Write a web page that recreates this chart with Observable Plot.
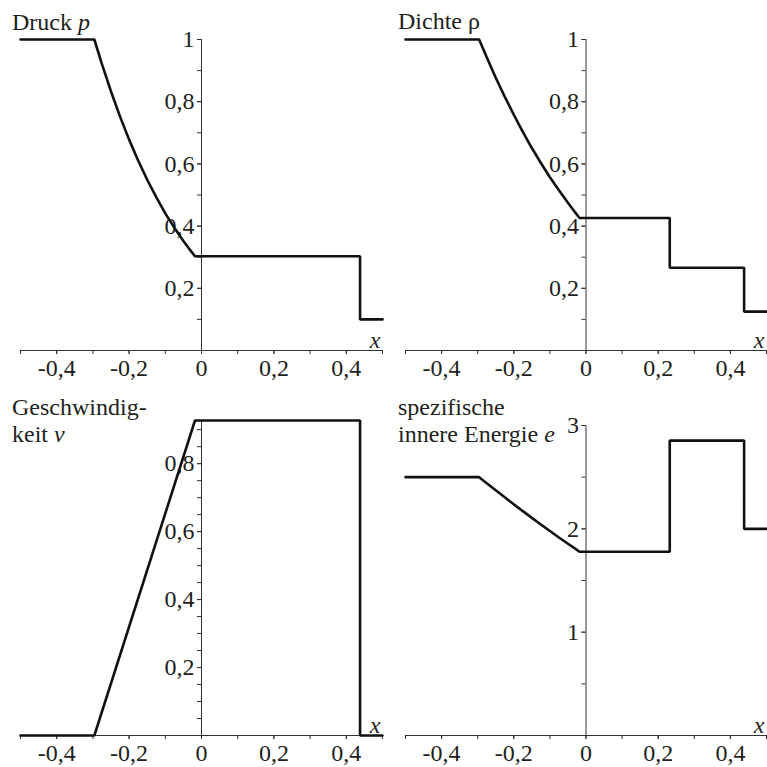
<!DOCTYPE html>
<html><head><meta charset="utf-8">
<script src="https://cdn.jsdelivr.net/npm/d3@7"></script>
<script src="https://cdn.jsdelivr.net/npm/@observablehq/plot@0.6"></script>
<style>
body{margin:0;background:#fff;}
#wrap{position:relative;width:767px;height:767px;color:#231f20;background:#fff;}
.panel{position:absolute;}
.title{position:absolute;font-size:24px;line-height:26.7px;white-space:nowrap;}
</style></head><body>
<div id="wrap"></div>
<script>
// x ticks
const xMinorTicks = [-0.5, -0.4, -0.3, -0.2, -0.1, 0, 0.1, 0.2, 0.3, 0.4, 0.5];
const xLabelTicks = [-0.4, -0.2, 0, 0.2, 0.4];

// Druck p
const xPressure = [-0.5, -0.296, -0.275, -0.25, -0.225, -0.2, -0.175, -0.15, -0.125, -0.1, -0.075, -0.05, -0.03, -0.018, 0.438, 0.438, 0.5];
const pressure  = [1, 1, 0.921, 0.833, 0.752, 0.678, 0.611, 0.549, 0.493, 0.441, 0.395, 0.352, 0.321, 0.303, 0.303, 0.1, 0.1];
const pTicks = [0.2, 0.4, 0.6, 0.8, 1];
const pMinor = [0.1, 0.2, 0.3, 0.4, 0.5, 0.6, 0.7, 0.8, 0.9, 1];

// Dichte rho
const xDensity = [-0.5, -0.296, -0.275, -0.25, -0.225, -0.2, -0.175, -0.15, -0.125, -0.1, -0.075, -0.05, -0.03, -0.018, 0.232, 0.232, 0.438, 0.438, 0.5];
const density  = [1, 1, 0.943, 0.877, 0.816, 0.758, 0.703, 0.651, 0.603, 0.557, 0.515, 0.475, 0.444, 0.426, 0.426, 0.266, 0.266, 0.125, 0.125];
const rhoTicks = [0.2, 0.4, 0.6, 0.8, 1];
const rhoMinor = [0.1, 0.2, 0.3, 0.4, 0.5, 0.6, 0.7, 0.8, 0.9, 1];

// Geschwindigkeit v
const xVelocity = [-0.5, -0.296, -0.018, 0.438, 0.438, 0.5];
const velocity  = [0, 0, 0.927, 0.927, 0, 0];
const vTop = 0.927;
const vTicks = [0.2, 0.4, 0.6, 0.8];
const vMinor = [0.05, 0.1, 0.15, 0.2, 0.25, 0.3, 0.35, 0.4, 0.45, 0.5, 0.55, 0.6, 0.65, 0.7, 0.75, 0.8, 0.85, 0.9];

// spezifische innere Energie e
const xEnergy = [-0.5, -0.296, -0.275, -0.25, -0.225, -0.2, -0.175, -0.15, -0.125, -0.1, -0.075, -0.05, -0.03, -0.018, 0.232, 0.232, 0.438, 0.438, 0.5];
const energy  = [2.5, 2.5, 2.442, 2.373, 2.305, 2.237, 2.171, 2.106, 2.042, 1.979, 1.916, 1.856, 1.808, 1.778, 1.778, 2.854, 2.854, 2.0, 2.0];
const eTicks = [1, 2, 3];
const eMinor = [0.5, 1, 1.5, 2, 2.5, 3];

const fmt = d => String(d).replace(".", ",");
const axisColor = "#333";
const fontName = "Liberation Serif";

function panel({xs, ys, yDomain, yTicks, yMinor, left, top, width, height, ml, mr, mt, mb}) {
  const pts = xs.map((x, i) => ({x, y: ys[i]}));
  const x0 = d3.scaleLinear([-0.5, 0.5], [ml, width - mr]);
  const dx = x0(0) - ml;
  const svg = Plot.plot({
    width, height,
    marginLeft: ml, marginRight: mr, marginTop: mt, marginBottom: mb,
    x: {domain: [-0.5, 0.5]},
    y: {domain: yDomain},
    style: {fontFamily: fontName, fontSize: "24px", color: "#231f20", background: "transparent", overflow: "visible"},
    marks: [
      Plot.ruleY([0], {stroke: axisColor, strokeWidth: 1}),
      Plot.ruleX([0], {stroke: axisColor, strokeWidth: 1}),
      Plot.axisX(xMinorTicks, {tickSize: 4, tickFormat: () => "", label: null, stroke: axisColor}),
      Plot.axisX(xLabelTicks, {tickSize: 4, tickPadding: 4, tickFormat: fmt, label: null, stroke: axisColor, fontFamily: fontName}),
      Plot.axisY(yMinor, {anchor: "left", tickSize: 4, tickFormat: () => "", label: null, dx, stroke: axisColor}),
      Plot.axisY(yTicks, {anchor: "left", tickSize: 4, tickPadding: 3, tickFormat: fmt, label: null, dx, stroke: axisColor, fontFamily: fontName}),
      Plot.line(pts, {x: "x", y: "y", stroke: "#111", strokeWidth: 2.6, strokeLinejoin: "miter"}),
      Plot.text(["x"], {frameAnchor: "bottom-right", dx: -2, dy: -3, fontStyle: "italic", fontSize: 24, fontFamily: fontName, textAnchor: "end", lineAnchor: "bottom"})
    ]
  });
  const div = document.createElement("div");
  div.className = "panel";
  div.style.left = left + "px";
  div.style.top = top + "px";
  div.appendChild(svg);
  document.getElementById("wrap").appendChild(div);
}

panel({xs: xPressure, ys: pressure, yDomain: [0, 1], yTicks: pTicks, yMinor: pMinor,
  left: 0, top: 0, width: 384, height: 383, ml: 20, mr: 2, mt: 39, mb: 33});
panel({xs: xDensity, ys: density, yDomain: [0, 1], yTicks: rhoTicks, yMinor: rhoMinor,
  left: 384, top: 0, width: 383, height: 383, ml: 21, mr: 1, mt: 39, mb: 33});
panel({xs: xVelocity, ys: velocity, yDomain: [0, vTop], yTicks: vTicks, yMinor: vMinor,
  left: 0, top: 384, width: 384, height: 383, ml: 20, mr: 2, mt: 36, mb: 32});
panel({xs: xEnergy, ys: energy, yDomain: [0, 3], yTicks: eTicks, yMinor: eMinor,
  left: 384, top: 384, width: 383, height: 383, ml: 21, mr: 1, mt: 41, mb: 32});

const titles = [
  {left: 12, top: 8.6, html: 'Druck <i>p</i>'},
  {left: 398, top: 7.6, html: 'Dichte ρ'},
  {left: 12, top: 394.3, html: 'Geschwindig-<br>keit <i>v</i>'},
  {left: 398, top: 394.3, html: 'spezifische<br>innere Energie <i>e</i>'}
];
for (const t of titles) {
  const d = document.createElement("div");
  d.className = "title";
  d.style.left = t.left + "px";
  d.style.top = t.top + "px";
  d.style.fontFamily = "Liberation Serif, serif";
  d.innerHTML = t.html;
  document.getElementById("wrap").appendChild(d);
}
</script>
</body></html>
